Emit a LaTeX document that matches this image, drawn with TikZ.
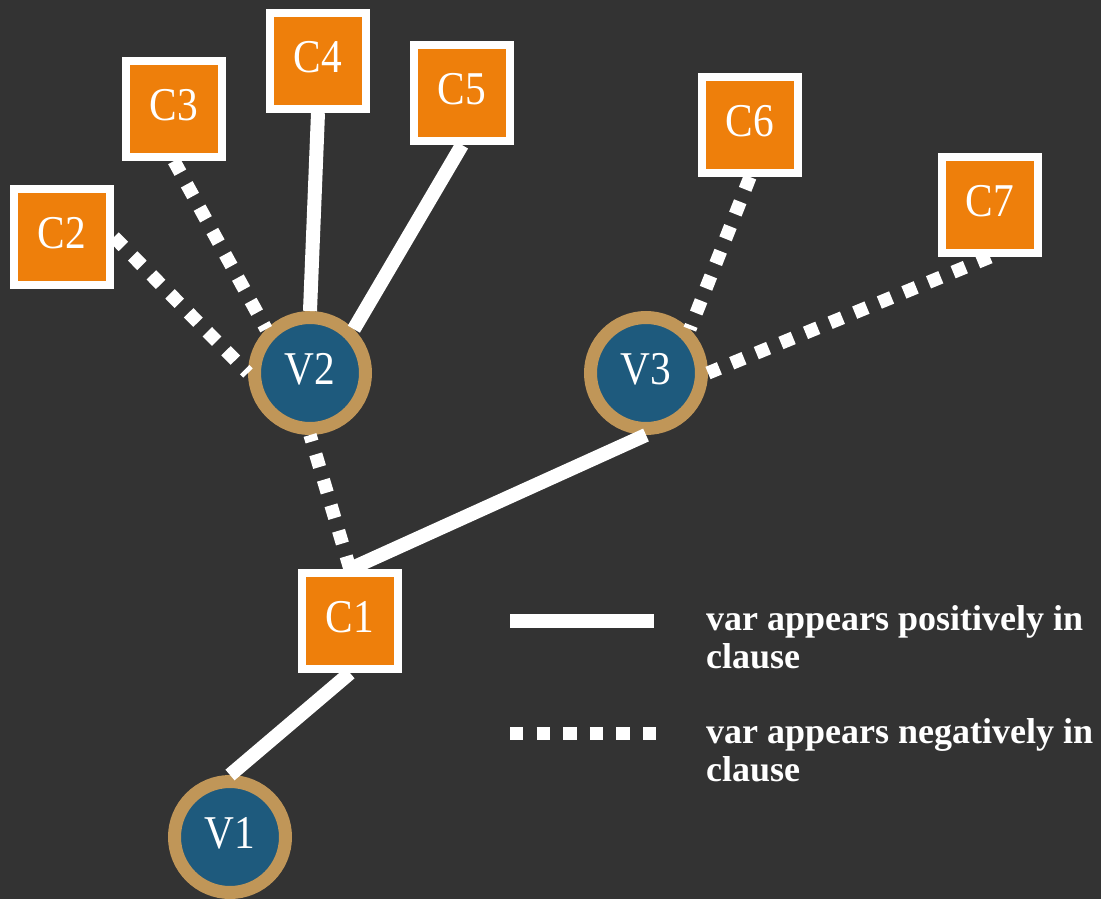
\documentclass[tikz,border=0pt]{standalone}
\usepackage{fontspec}
\setmainfont{Liberation Serif}
\newfontfamily\nodefont[FakeStretch=0.88]{Liberation Serif}

\definecolor{bgdark}{HTML}{333333}
\definecolor{clauseorange}{HTML}{EE7F0B}
\definecolor{varblue}{HTML}{1E5A7D}
\definecolor{vartan}{HTML}{C09658}

\begin{document}
\begin{tikzpicture}[x=1pt, y=-1pt,
    clause/.style={draw=white, line width=8pt, fill=clauseorange, minimum size=96pt,
        inner sep=0pt, text=white, text depth=8pt, font=\nodefont\fontsize{47}{50}\selectfont},
    var/.style={circle, draw=vartan, line width=13pt, fill=varblue, minimum size=111pt,
        inner sep=0pt, text=white, text depth=8pt, font=\nodefont\fontsize{47}{50}\selectfont},
    posedge/.style={draw=white, line width=14pt},
    negedge/.style={draw=white, line width=13.3pt, dash pattern=on 13.3pt off 13.3pt},
    legend/.style={text=white, font=\fontsize{36}{38}\selectfont\bfseries, align=left,
        anchor=base west, inner sep=0pt}]

        \fill [bgdark] (0, 0) rectangle (1101, 899);

        % variables
        \node [var] (v1) at (230, 837) {V1};
        \node [var] (v2) at (310, 373) {V2};
        \node [var] (v3) at (646, 373) {V3};

        % clauses
        \node [clause] (c1) at (350, 621) {C1};
        \node [clause] (c2) at (62, 237) {C2};
        \node [clause] (c3) at (174, 109) {C3};
        \node [clause] (c4) at (318, 61) {C4};
        \node [clause] (c5) at (462, 93) {C5};
        \node [clause] (c6) at (750, 125) {C6};
        \node [clause] (c7) at (990, 205) {C7};

        % edges
        \draw [posedge] (c1.south) -- (v1.north);
        \draw [negedge] (c1.north) -- (v2.south);
        \draw [posedge] (c1.north) -- (v3.south);
        \draw [negedge] (c2.east) -- (v2.west);
        \draw [negedge] (c3.south) -- (v2.north west);
        \draw [posedge] (c4.south) -- (v2.north);
        \draw [posedge] (c5.south) -- (v2.north east);
        \draw [negedge] (c6.south) -- (v3.north east);
        \draw [negedge] (c7.south) -- (v3.east);

        % legend (base anchor sits on the last line)
        \coordinate (posa) at (510, 621);
        \coordinate (posb) at (654, 621);
        \coordinate (nega) at (510, 733.5);
        \coordinate (negb) at (657, 733.5);
        \draw [posedge] (posa) -- (posb);
        \draw [negedge] (nega) -- (negb);
        \node [legend] (poslabel) at (706, 668) {var appears positively in\\clause};
        \node [legend] (neglabel) at (706, 781) {var appears negatively in\\clause};
    \end{tikzpicture}
\end{document}
